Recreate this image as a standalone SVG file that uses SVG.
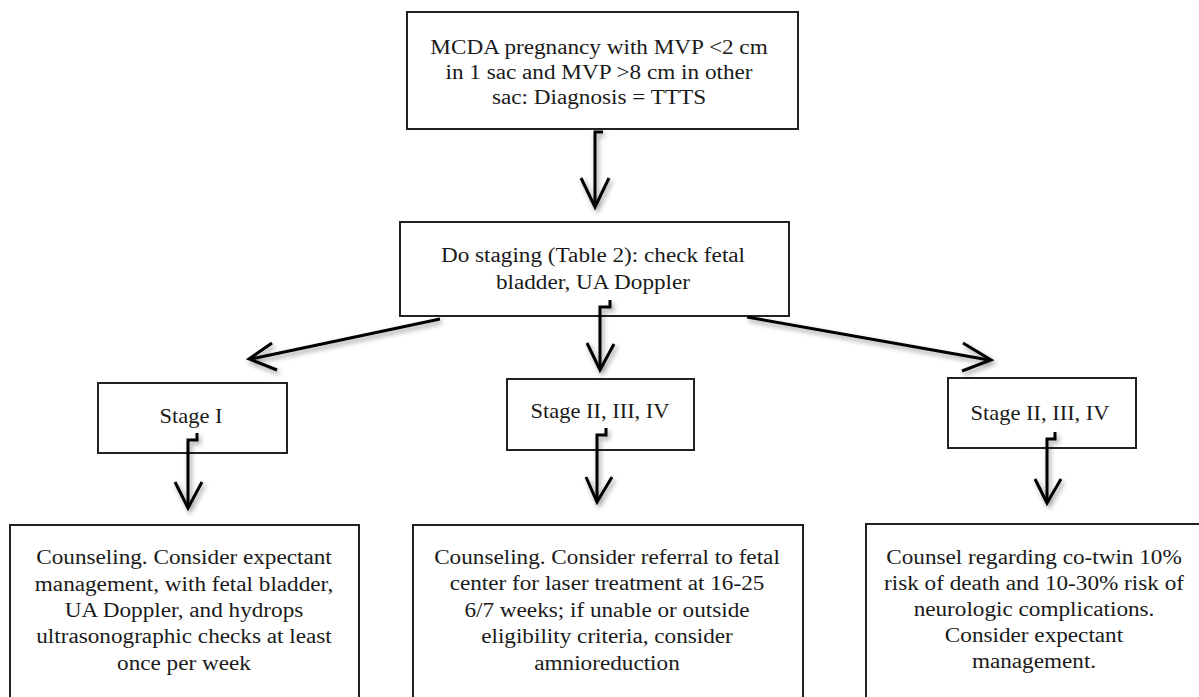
<svg xmlns="http://www.w3.org/2000/svg" width="1199" height="697" viewBox="0 0 1199 697">
  <defs>
    <filter id="sh" x="-20%" y="-20%" width="140%" height="160%">
      <feDropShadow dx="2" dy="3" stdDeviation="2.5" flood-color="#000" flood-opacity="0.4"/>
    </filter>
    <style>
      .box{fill:#fff;stroke:#222;stroke-width:2}
      .t{font-family:"Liberation Serif","Times New Roman",serif;font-size:20px;fill:#1a1a1a;text-anchor:middle}
      .s{font-family:"Liberation Serif","Times New Roman",serif;font-size:21px;fill:#1a1a1a;text-anchor:middle}
      .c{fill:none;stroke:#000;stroke-width:3;stroke-linejoin:miter;stroke-linecap:butt}
    </style>
  </defs>
  <rect width="1199" height="697" fill="#fff"/>

  <g id="n-diagnosis">
    <rect class="box" x="407" y="12" width="391" height="117"/>
    <g transform="translate(599,0) scale(1.16,1)">
      <text class="t" x="0" y="54">MCDA pregnancy with MVP &lt;2 cm</text>
      <text class="t" x="0" y="79">in 1 sac and MVP &gt;8 cm in other</text>
      <text class="t" x="0" y="104">sac: Diagnosis = TTTS</text>
    </g>
  </g>

  <g id="n-staging">
    <rect class="box" x="400" y="222" width="389" height="94"/>
    <g transform="translate(593,0) scale(1.16,1)">
      <text class="t" x="0" y="262">Do staging (Table 2): check fetal</text>
      <text class="t" x="0" y="289">bladder, UA Doppler</text>
    </g>
  </g>

  <g id="n-stage1">
    <rect class="box" x="98" y="383" width="189" height="70"/>
    <g transform="translate(191,0) scale(1.07,1)">
      <text class="s" x="0" y="423">Stage I</text>
    </g>
  </g>

  <g id="n-stage234-mid">
    <rect class="box" x="507" y="379" width="187" height="71"/>
    <g transform="translate(600,0) scale(1.07,1)">
      <text class="s" x="0" y="418">Stage II, III, IV</text>
    </g>
  </g>

  <g id="n-stage234-right">
    <rect class="box" x="948" y="378" width="188" height="70"/>
    <g transform="translate(1040,0) scale(1.07,1)">
      <text class="s" x="0" y="420">Stage II, III, IV</text>
    </g>
  </g>

  <g id="n-expectant">
    <rect class="box" x="10" y="525" width="349" height="190"/>
    <g transform="translate(184,0) scale(1.16,1)">
      <text class="t" x="0" y="564">Counseling. Consider expectant</text>
      <text class="t" x="0" y="591">management, with fetal bladder,</text>
      <text class="t" x="0" y="617">UA Doppler, and hydrops</text>
      <text class="t" x="0" y="643">ultrasonographic checks at least</text>
      <text class="t" x="0" y="670">once per week</text>
    </g>
  </g>

  <g id="n-laser">
    <rect class="box" x="413" y="525" width="390" height="190"/>
    <g transform="translate(607,0) scale(1.16,1)">
      <text class="t" x="0" y="564">Counseling. Consider referral to fetal</text>
      <text class="t" x="0" y="590">center for laser treatment at 16-25</text>
      <text class="t" x="0" y="617">6/7 weeks; if unable or outside</text>
      <text class="t" x="0" y="643">eligibility criteria, consider</text>
      <text class="t" x="0" y="670">amnioreduction</text>
    </g>
  </g>

  <g id="n-cotwin">
    <rect class="box" x="866" y="524" width="340" height="190"/>
    <g transform="translate(1034,0) scale(1.16,1)">
      <text class="t" x="0" y="564">Counsel regarding co-twin 10%</text>
      <text class="t" x="0" y="590">risk of death and 10-30% risk of</text>
      <text class="t" x="0" y="616">neurologic complications.</text>
      <text class="t" x="0" y="642">Consider expectant</text>
      <text class="t" x="0" y="668">management.</text>
    </g>
  </g>

  <g id="connectors" filter="url(#sh)">
    <path class="c" d="M603,132 H595 V206"/>
    <polyline class="c" points="581,178 595,207 609,178"/>

    <path class="c" d="M440,319 L251,359"/>
    <polyline class="c" points="272,343 249,359 277,370"/>

    <path class="c" d="M610,300 V307 H600 V369"/>
    <polyline class="c" points="587,343 600,370 614,344"/>

    <path class="c" d="M747,317 L989,360"/>
    <polyline class="c" points="963,343 991,360 962,371"/>

    <path class="c" d="M197,433 V440 H188 V507"/>
    <polyline class="c" points="175,482 188,508 202,482"/>

    <path class="c" d="M606,428 V435 H597 V501"/>
    <polyline class="c" points="586,477 597,502 612,477"/>

    <path class="c" d="M1055,432 V439 H1047 V502"/>
    <polyline class="c" points="1035,479 1047,503 1061,479"/>
  </g>
</svg>
